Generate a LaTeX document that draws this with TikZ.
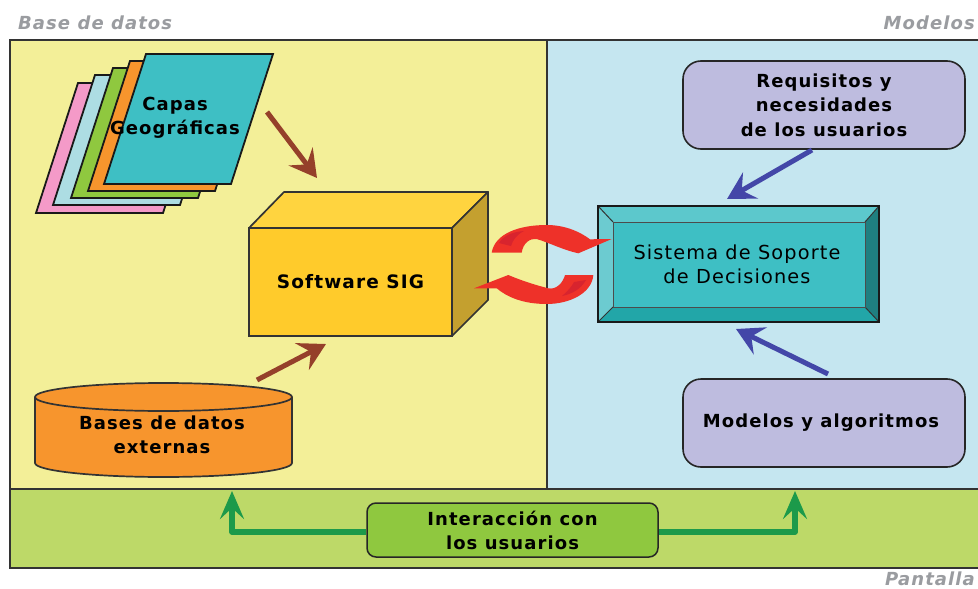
\documentclass[tikz,border=0pt]{standalone}
\usepackage{fontspec}
\setmainfont{DejaVu Sans}
\newfontfamily\widefont[LetterSpace=6]{DejaVu Sans}
\usetikzlibrary{arrows.meta,shapes.geometric}
\definecolor{yellowbg}{HTML}{F3EF98}
\definecolor{bluebg}{HTML}{C5E6F0}
\definecolor{greenbg}{HTML}{BDD968}
\definecolor{teal}{HTML}{3EBFC4}
\definecolor{lilac}{HTML}{BEBCDF}
\definecolor{boxyellow}{HTML}{FFCB2B}
\definecolor{boxtop}{HTML}{FFD43F}
\definecolor{boxside}{HTML}{C4A02F}
\definecolor{cylorange}{HTML}{F7952D}
\definecolor{darkred}{HTML}{95402A}
\definecolor{navy}{HTML}{4347A8}
\definecolor{dgreen}{HTML}{1C9A4A}
\definecolor{leaf}{HTML}{8FC83F}
\definecolor{redarr}{HTML}{EE3129}
\definecolor{redin}{HTML}{D8242E}
\definecolor{lgray}{HTML}{9A9CA0}
\definecolor{sheetpink}{HTML}{F49AC8}
\definecolor{sheetblue}{HTML}{ADDDE3}
\definecolor{bevtop}{HTML}{5CC8CC}
\definecolor{bevleft}{HTML}{6CCBD0}
\definecolor{bevright}{HTML}{1F7F80}
\definecolor{bevbot}{HTML}{22A6A8}
\tikzset{
  panel/.style={draw=black!80,line width=1.8pt},
  sheet/.style={draw=black!90,line width=1.8pt,line join=miter},
  edgeline/.style={draw=black!80,line width=1.7pt,line join=round},
  softbox/.style={draw=black!85,line width=1.6pt,fill=lilac,rounded corners=18pt,minimum width=282pt,minimum height=88pt,inner sep=0pt,align=center,font=\widefont\fontsize{18}{24.5}\selectfont\bfseries},
  corner/.style={font=\widefont\fontsize{18}{20}\selectfont\bfseries\itshape,text=lgray,inner sep=0pt},
  sheetlabel/.style={font=\widefont\fontsize{18}{24}\selectfont\bfseries,align=center,inner sep=0pt},
  brownarrow/.style={draw=darkred,line width=5pt,-{Stealth[length=27pt,width=30pt,inset=10pt]}},
  bluearrow/.style={draw=navy,line width=5pt,-{Stealth[length=27pt,width=30pt,inset=10pt]}},
  greenarrow/.style={draw=dgreen,line width=5.5pt,line join=round,-{Stealth[length=28pt,width=24pt,inset=11pt]}},
}
\begin{document}
\begin{tikzpicture}[x=1pt,y=-1pt]
\useasboundingbox (0,0) rectangle (978,589);
\fill[white] (0,0) rectangle (978,589);
% panels
\fill[yellowbg] (10,40) rectangle (547,489);
\fill[bluebg] (547,40) rectangle (978,489);
\fill[greenbg] (10,489) rectangle (978,568);
\draw[panel] (978,40) -- (10,40) -- (10,568) -- (978,568);
\draw[panel] (10,489) -- (978,489);
\draw[panel] (547,40) -- (547,489);
% corner labels
\node[corner,anchor=west] (lblbase) at (18,23) {Base de datos};
\node[corner,anchor=east] (lblmod) at (975,23) {Modelos};
\node[corner,anchor=east] (lblpan) at (975,579) {Pantalla};
% sheets
\foreach \c/\xx/\yy in {sheetpink/36/213,sheetblue/53/205,leaf/71/198,cylorange/88/191,teal/104/184}
  \filldraw[sheet,fill=\c] (\xx,\yy) -- ++(42,-130) -- ++(127,0) -- ++(-42,130) -- cycle;
\node[sheetlabel] (capas) at (175,118) {Capas\\Geográficas};
% software box
\filldraw[edgeline,fill=boxtop] (249,228) -- (284,192) -- (488,192) -- (452,228) -- cycle;
\filldraw[edgeline,fill=boxside] (452,228) -- (488,192) -- (488,300) -- (452,336) -- cycle;
\node[draw=black!80,line width=1.7pt,fill=boxyellow,minimum width=203pt,minimum height=108pt,inner sep=0pt,font=\widefont\fontsize{18.5}{20}\selectfont\bfseries] (sig) at (350.5,282) {\raisebox{1pt}{Software SIG}};
% cylinder
\filldraw[edgeline,fill=cylorange] (35,397) -- (35,463) arc[start angle=180,end angle=360,x radius=128.5,y radius=-14] -- (292,397) arc[start angle=0,end angle=180,x radius=128.5,y radius=-14] -- cycle;
\draw[edgeline] (35,397) arc[start angle=180,end angle=360,x radius=128.5,y radius=-14];
\node[sheetlabel] (bases) at (162,435) {Bases de datos\\externas};
% lilac boxes
\node[softbox] (req) at (824,105) {Requisitos y\\necesidades\\de los usuarios};
\node[softbox] (mod) at (824,423) {\hspace*{-6pt}Modelos y algoritmos};
% sistema
\fill[bevtop] (598,206) -- (879,206) -- (865,222) -- (613,222) -- cycle;
\fill[bevleft] (598,206) -- (613,222) -- (613,307) -- (598,322) -- cycle;
\fill[bevright] (879,206) -- (865,222) -- (865,307) -- (879,322) -- cycle;
\fill[bevbot] (598,322) -- (613,307) -- (865,307) -- (879,322) -- cycle;
\draw[black!80,line width=1pt] (598,206) -- (613,222) (879,206) -- (865,222) (598,322) -- (613,307) (879,322) -- (865,307);
\node[draw=black!70,line width=1pt,fill=teal,minimum width=252pt,minimum height=85pt,inner sep=0pt] (dss) at (739,264.5) {};
\node[inner sep=0pt,align=center,font=\widefont\fontsize{19.3}{24}\selectfont] (dsstext) at (737,264) {Sistema de Soporte\\de Decisiones};
\draw[black!90,line width=2pt] (598,206) rectangle (879,322);
% interaction
\node[draw=black!85,line width=1.5pt,fill=leaf,rounded corners=9pt,minimum width=291pt,minimum height=54pt,inner sep=0pt,align=center,font=\widefont\fontsize{18}{24}\selectfont\bfseries] (inter) at (512.5,530) {Interacción con\\los usuarios};
% connector ends
\coordinate (brA) at (267,112); \coordinate (brB) at (317,178);
\coordinate (brC) at (257,380); \coordinate (brD) at (326,344);
\coordinate (blA) at (812,150); \coordinate (blB) at (727,199);
\coordinate (blC) at (828,374); \coordinate (blD) at (736,329);
\coordinate (grA) at (232,491); \coordinate (grB) at (795,491);
\draw[brownarrow] (brA) -- (brB);
\draw[brownarrow] (brC) -- (brD);
\draw[bluearrow] (blA) -- (blB);
\draw[bluearrow] (blC) -- (blD);
\draw[greenarrow] ([yshift=-2pt]inter.west) -- (232,532) -- (grA);
\draw[greenarrow] ([yshift=-2pt]inter.east) -- (795,532) -- (grB);
% red exchange arrows
\fill[redarr] (491.7,252.7) .. controls (495,233) and (520,225) .. (546.7,225) .. controls (566.7,225) and (581.7,233) .. (590,239.3) -- (611.7,239) -- (578.3,253.3) .. controls (563,250) and (550,243) .. (536.7,239) .. controls (530,238) and (523,243) .. (521.7,252.7) -- cycle;
\fill[redin] (499,243) .. controls (503,236) and (512,232) .. (524,231) .. controls (516,235) and (513,240) .. (511,246) -- cycle;
\fill[redarr] (593.3,275) .. controls (592,293) and (570,304) .. (546.7,304) .. controls (523,304) and (507,297) .. (496.7,288.3) -- (474,288.3) -- (508.3,275) .. controls (520,280) and (535,285) .. (548.3,288.3) .. controls (556,290) and (563,283) .. (565,275) -- cycle;
\fill[redin] (586,280) .. controls (581,289) and (572,294) .. (562,296) .. controls (568,291) and (572,286) .. (574,282) -- cycle;
\end{tikzpicture}
\end{document}
